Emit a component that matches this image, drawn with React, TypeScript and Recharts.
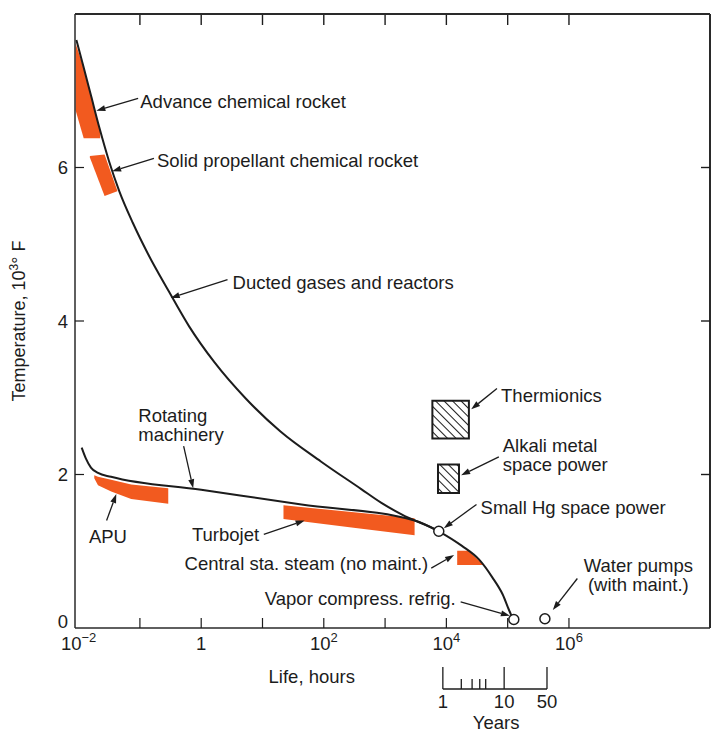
import React from "react";
import {
  Area,
  ComposedChart,
  Line,
  ReferenceArea,
  ReferenceLine,
  Scatter,
  XAxis,
  YAxis,
} from "recharts";

const FONT = '"Liberation Sans", Arial, Helvetica, sans-serif';
const INK = "#1c1c1c";
const FRAME = "#2a2a2a";
const ORANGE = "#f25a1f";
const FS = 18.5;

// chart layout
const CHART_W = 714;
const CHART_H = 734;
const MARGIN = { top: 14, right: 4, bottom: 0, left: 0 };
const Y_AXIS_W = 75;
const X_AXIS_H = 40;
const YEARS_AXIS_H = 66;
const PLOT_W = CHART_W - MARGIN.left - MARGIN.right - Y_AXIS_W;
const PLOT_H = CHART_H - MARGIN.top - MARGIN.bottom - X_AXIS_H - YEARS_AXIS_H;

// x: life in hours (log scale), y: temperature in 10^3 °F
const HOURS_MIN = 0.00873;
const HOURS_MAX = 2.0e8;
const TEMP_MAX = 8;
const decadeTicks = [0.01, 0.1, 1, 10, 100, 1e3, 1e4, 1e5, 1e6];
const tempTicks = [0, 2, 4, 6];
const HOURS_PER_YEAR = 8760;
const yearTicks = [1, 2, 3, 4, 5, 10, 50];
const yearLabels = [1, 10, 50];

const ductedGases = [
  { x: 0.0092, y: 7.66 },
  { x: 0.01213, y: 7.3 },
  { x: 0.016, y: 6.93 },
  { x: 0.02195, y: 6.51 },
  { x: 0.03126, y: 6.085 },
  { x: 0.04619, y: 5.69 },
  { x: 0.0765, y: 5.28 },
  { x: 0.1364, y: 4.87 },
  { x: 0.2943, y: 4.39 },
  { x: 0.635, y: 3.93 },
  { x: 1.652, y: 3.46 },
  { x: 5.19, y: 3.0 },
  { x: 19.66, y: 2.56 },
  { x: 89.6, y: 2.17 },
  { x: 408, y: 1.81 },
  { x: 871, y: 1.63 },
  { x: 1858, y: 1.48 },
  { x: 7520, y: 1.26 },
  { x: 17950, y: 1.07 },
  { x: 34300, y: 0.89 },
  { x: 56200, y: 0.66 },
  { x: 82600, y: 0.44 },
  { x: 112700, y: 0.18 },
  { x: 126000, y: 0.11 },
];

const rotatingMachinery = [
  { x: 0.01122, y: 2.35 },
  { x: 0.01311, y: 2.21 },
  { x: 0.01589, y: 2.09 },
  { x: 0.02072, y: 2.02 },
  { x: 0.03383, y: 1.97 },
  { x: 1.0, y: 1.8 },
  { x: 43.2, y: 1.61 },
  { x: 3035, y: 1.4 },
  { x: 7520, y: 1.26 },
];

// orange bands: [low, high] temperature at each life value
const advanceRocketBand = [
  { x: 0.0089, r: [6.75, 7.62] },
  { x: 0.0121, r: [6.38, 7.3] },
  { x: 0.0225, r: [6.38, 6.47] },
];
const solidRocketBand = [
  { x: 0.01527, r: [6.13, 6.15] },
  { x: 0.0265, r: [5.63, 6.17] },
  { x: 0.04275, r: [5.69, 5.7] },
];
const apuBand = [
  { x: 0.018, r: [1.95, 1.99] },
  { x: 0.0207, r: [1.86, 1.97] },
  { x: 0.034, r: [1.78, 1.93] },
  { x: 0.0721, r: [1.68, 1.87] },
  { x: 0.29, r: [1.62, 1.82] },
];
const turbojetBand = [
  { x: 22, r: [1.42, 1.6] },
  { x: 284, r: [1.31, 1.51] },
  { x: 3030, r: [1.21, 1.43] },
];
const steamBand = [
  { x: 15000, r: [0.82, 1.005] },
  { x: 22700, r: [0.82, 1.005] },
  { x: 39800, r: [0.82, 0.83] },
];

const hatchedBoxes = [
  { x1: 5910, x2: 23300, y1: 2.47, y2: 2.96 },
  { x1: 7300, x2: 16070, y1: 1.76, y2: 2.13 },
];

const openCircles = [
  { x: 7520, y: 1.26 },
  { x: 126000, y: 0.11 },
  { x: 405000, y: 0.12 },
];

const notes = [
  { x: 0.1014, y: 6.78, lines: ["Advance chemical rocket"], anchor: "start" },
  { x: 0.19, y: 6.01, lines: ["Solid propellant chemical rocket"], anchor: "start" },
  { x: 3.25, y: 4.42, lines: ["Ducted gases and reactors"], anchor: "start" },
  { x: 0.0942, y: 2.69, lines: ["Rotating", "machinery"], anchor: "start" },
  { x: 0.01472, y: 1.11, lines: ["APU"], anchor: "start" },
  { x: 0.705, y: 1.13, lines: ["Turbojet"], anchor: "start" },
  { x: 78000, y: 2.95, lines: ["Thermionics"], anchor: "start" },
  { x: 83200, y: 2.29, lines: ["Alkali metal", "space power"], anchor: "start" },
  { x: 36100, y: 1.48, lines: ["Small Hg space power"], anchor: "start" },
  { x: 5070, y: 0.75, lines: ["Central sta. steam (no maint.)"], anchor: "end" },
  { x: 14200, y: 0.3, lines: ["Vapor compress. refrig."], anchor: "end" },
  { x: 1.355e7, y: 0.73, lines: ["Water pumps", "(with maint.)"], anchor: "middle" },
];

const arrows = [
  { from: { x: 0.0935, y: 6.9 }, to: { x: 0.01946, y: 6.74 } },
  { from: { x: 0.1694, y: 6.12 }, to: { x: 0.0352, y: 5.95 } },
  { from: { x: 2.69, y: 4.54 }, to: { x: 0.318, y: 4.3 } },
  { from: { x: 0.517, y: 2.37 }, to: { x: 0.74, y: 1.82 } },
  { from: { x: 0.0286, y: 1.4 }, to: { x: 0.0412, y: 1.745 } },
  { from: { x: 10.5, y: 1.22 }, to: { x: 48.7, y: 1.4 } },
  { from: { x: 66900, y: 3.12 }, to: { x: 25400, y: 2.85 } },
  { from: { x: 71800, y: 2.23 }, to: { x: 17400, y: 1.99 } },
  { from: { x: 31000, y: 1.61 }, to: { x: 9080, y: 1.3 } },
  { from: { x: 5670, y: 0.78 }, to: { x: 13370, y: 0.95 } },
  { from: { x: 17100, y: 0.34 }, to: { x: 108700, y: 0.16 } },
  { from: { x: 1.37e6, y: 0.645 }, to: { x: 545000, y: 0.235 } },
];

// level of the years bracket, below the hours axis
const YEARS_BRACKET_T = -0.795;

function ArrowShape(props: any) {
  const x1 = Number(props.x1);
  const y1 = Number(props.y1);
  const x2 = Number(props.x2);
  const y2 = Number(props.y2);
  const dx = x2 - x1;
  const dy = y2 - y1;
  const len = Math.hypot(dx, dy) || 1;
  const ux = dx / len;
  const uy = dy / len;
  const hl = 9;
  const hw = 3;
  const bx = x2 - ux * hl;
  const by = y2 - uy * hl;
  return (
    <g>
      <line x1={x1} y1={y1} x2={bx} y2={by} stroke={INK} strokeWidth={1.3} />
      <polygon
        points={`${x2},${y2} ${bx - uy * hw},${by + ux * hw} ${bx + uy * hw},${by - ux * hw}`}
        fill={INK}
      />
    </g>
  );
}

function NoteText(props: any) {
  const { cx, cy, payload } = props;
  return (
    <text x={cx} y={cy} textAnchor={payload.anchor} fontSize={FS} fontFamily={FONT} fill={INK}>
      {payload.lines.map((l: string, i: number) => (
        <tspan key={i} x={cx} dy={i === 0 ? 0 : 19}>
          {l}
        </tspan>
      ))}
    </text>
  );
}

function OpenCircle(props: any) {
  return <circle cx={props.cx} cy={props.cy} r={5} fill="#fff" stroke={INK} strokeWidth={1.5} />;
}

// bottom ticks point up into the plot; the same decade gets a mirrored tick on the top side
function BottomTick(props: any) {
  const x = Number(props.x);
  const y = Number(props.y);
  const exp = Math.round(Math.log10(props.payload.value));
  const top = y - PLOT_H;
  return (
    <g>
      {exp > -2 && <line x1={x} y1={y} x2={x} y2={y - 10} stroke={INK} strokeWidth={1.2} />}
      {exp > -2 && <line x1={x} y1={top} x2={x} y2={top + 11} stroke={INK} strokeWidth={1.4} />}
      {exp % 2 === 0 && (
        <text x={x} y={y + 22} textAnchor="middle" fontSize={FS} fontFamily={FONT} fill={INK}>
          {exp === 0 ? (
            "1"
          ) : (
            <>
              10
              <tspan dy={-8} fontSize={13}>
                {exp < 0 ? "\u2212" + -exp : String(exp)}
              </tspan>
            </>
          )}
        </text>
      )}
      {exp === 2 && (
        <text x={x - 12} y={y + 55} textAnchor="middle" fontSize={FS} fontFamily={FONT} fill={INK}>
          Life, hours
        </text>
      )}
    </g>
  );
}

// left ticks point right; the top and right sides of the frame and their ticks are drawn here too
function LeftTick(props: any) {
  const x = Number(props.x);
  const y = Number(props.y);
  const v = props.payload.value;
  const right = x + PLOT_W;
  if (v === TEMP_MAX) {
    return <line x1={x} y1={y} x2={right} y2={y} stroke={FRAME} strokeWidth={2} />;
  }
  return (
    <g>
      {v === 0 && <line x1={right} y1={y} x2={right} y2={y - PLOT_H} stroke={FRAME} strokeWidth={2} />}
      {v > 0 && <line x1={x} y1={y} x2={x + 9} y2={y} stroke={INK} strokeWidth={1.2} />}
      {v > 0 && <line x1={right} y1={y} x2={right - 9} y2={y} stroke={INK} strokeWidth={1.4} />}
      <text
        x={x - 7}
        y={v === 0 ? y - 7 : y}
        dy="0.36em"
        textAnchor="end"
        fontSize={FS}
        fontFamily={FONT}
        fill={INK}
      >
        {v}
      </text>
      {v === 4 && (
        <text
          x={19}
          y={y}
          transform={`rotate(-90 19 ${y})`}
          textAnchor="middle"
          dy="0.36em"
          fontSize={18}
          fontFamily={FONT}
          fill={INK}
        >
          Temperature, 10
          <tspan dy={-7} fontSize={12}>
            3
          </tspan>
          <tspan dy={7}>° F</tspan>
        </text>
      )}
    </g>
  );
}

function YearTick(props: any) {
  const x = Number(props.x);
  const y = Number(props.y);
  const yrs = Math.round(props.payload.value / HOURS_PER_YEAR);
  const long = yearLabels.includes(yrs);
  return (
    <g>
      <line x1={x} y1={y + (long ? -1 : 11)} x2={x} y2={y + 21} stroke={INK} strokeWidth={1.3} />
      {long && (
        <text x={x} y={y + 40} textAnchor="middle" fontSize={FS} fontFamily={FONT} fill={INK}>
          {yrs}
        </text>
      )}
      {yrs === 10 && (
        <text x={x - 8} y={y + 61} textAnchor="middle" fontSize={FS} fontFamily={FONT} fill={INK}>
          Years
        </text>
      )}
    </g>
  );
}

const frameLine = { stroke: FRAME, strokeWidth: 1.5 };

export default function App() {
  return (
    <div style={{ width: CHART_W, height: CHART_H, background: "#fff" }}>
      <style>{"body{margin:0}"}</style>
      <ComposedChart width={CHART_W} height={CHART_H} margin={MARGIN}>
        <defs>
          <pattern
            id="hatch"
            width="6"
            height="6"
            patternUnits="userSpaceOnUse"
            patternTransform="rotate(-45)"
          >
            <rect width="6" height="6" fill="#fff" />
            <line x1="0" y1="0" x2="0" y2="6" stroke={INK} strokeWidth="2" />
          </pattern>
        </defs>

        <XAxis
          dataKey="x"
          type="number"
          scale="log"
          domain={[HOURS_MIN, HOURS_MAX]}
          allowDataOverflow
          ticks={decadeTicks}
          interval={0}
          tick={BottomTick}
          tickLine={false}
          tickSize={0}
          tickMargin={0}
          height={X_AXIS_H}
          axisLine={frameLine}
        />
        <XAxis
          xAxisId="years"
          dataKey="x"
          type="number"
          scale="log"
          domain={[HOURS_MIN, HOURS_MAX]}
          allowDataOverflow
          ticks={yearTicks.map((yr) => yr * HOURS_PER_YEAR)}
          interval={0}
          tick={YearTick}
          tickLine={false}
          tickSize={0}
          tickMargin={0}
          height={YEARS_AXIS_H}
          axisLine={false}
        />
        <YAxis
          type="number"
          domain={[0, TEMP_MAX]}
          allowDataOverflow
          ticks={[...tempTicks, TEMP_MAX]}
          interval={0}
          tick={LeftTick}
          tickLine={false}
          tickSize={0}
          tickMargin={0}
          width={Y_AXIS_W}
          axisLine={frameLine}
        />

        {[advanceRocketBand, solidRocketBand, apuBand, turbojetBand, steamBand].map((band, i) => (
          <Area
            key={i}
            data={band}
            dataKey="r"
            type="linear"
            stroke="none"
            fill={ORANGE}
            fillOpacity={1}
            dot={false}
            activeDot={false}
            isAnimationActive={false}
          />
        ))}

        {hatchedBoxes.map((b, i) => (
          <ReferenceArea
            key={i}
            x1={b.x1}
            x2={b.x2}
            y1={b.y1}
            y2={b.y2}
            fill="url(#hatch)"
            fillOpacity={1}
            stroke={INK}
            strokeWidth={2}
          />
        ))}

        <Line
          data={ductedGases}
          dataKey="y"
          type="monotone"
          stroke={INK}
          strokeWidth={2}
          dot={false}
          activeDot={false}
          isAnimationActive={false}
        />
        <Line
          data={rotatingMachinery}
          dataKey="y"
          type="monotone"
          stroke={INK}
          strokeWidth={2}
          dot={false}
          activeDot={false}
          isAnimationActive={false}
        />

        {arrows.map((a, i) => (
          <ReferenceLine key={i} segment={[a.from, a.to]} ifOverflow="visible" shape={ArrowShape} />
        ))}

        <ReferenceLine
          segment={[
            { x: yearTicks[0] * HOURS_PER_YEAR, y: YEARS_BRACKET_T },
            { x: yearTicks[yearTicks.length - 1] * HOURS_PER_YEAR, y: YEARS_BRACKET_T },
          ]}
          ifOverflow="visible"
          stroke={INK}
          strokeWidth={1.3}
        />

        <Scatter data={openCircles} dataKey="y" shape={OpenCircle} isAnimationActive={false} />
        <Scatter data={notes} dataKey="y" shape={NoteText} isAnimationActive={false} />
      </ComposedChart>
    </div>
  );
}
